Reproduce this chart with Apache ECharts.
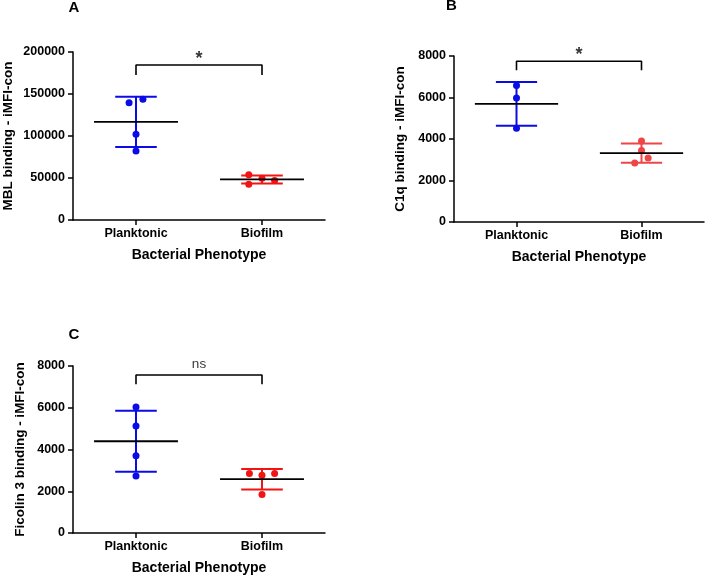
<!DOCTYPE html>
<html><head><meta charset="utf-8">
<script src="https://cdn.jsdelivr.net/npm/echarts@6/dist/echarts.min.js"></script>
<style>html,body{margin:0;padding:0;background:#fff}#c{width:705px;height:575px}</style>
</head><body><div id="c"></div>
<script>
// ---------- data ----------
const categories = ['Planktonic', 'Biofilm'];
const xAxisTitle = 'Bacterial Phenotype';
const panelLetters = ['A', 'B', 'C'];
const yAxisTitles = ['MBL binding - iMFI-con', 'C1q binding - iMFI-con', 'Ficolin 3 binding - iMFI-con'];
const yMax = [200000, 8000, 8000];
const yStep = [50000, 2000, 2000];

const mblPlanktonic = [139600, 143700, 102000, 82100];
const mblBiofilm = [54000, 49600, 47000, 42500];
const c1qPlanktonic = [6580, 5976, 4520];
const c1qBiofilm = [3904, 3440, 3090, 2843];
const ficPlanktonic = [6030, 5121, 3695, 2735];
const ficBiofilm = [2851, 2770, 2851, 1843];

const sigLabels = ['*', '*', 'ns'];
const bracketLow = [172600, 7311, 7122];
const bracketHigh = [184500, 7745, 7568];

// horizontal jitter of the dots (category units)
const jitterA = [[-0.055, 0.055, 0, 0], [-0.105, 0, 0.1, -0.105]];
const jitterB = [[0, 0, 0], [0, 0, 0.053, -0.054]];
const jitterC = [[0, 0, 0, 0], [-0.1, 0, 0.1, 0]];

// ---------- layout / style ----------
const BLUE = '#0b0be6';
const redColors = ['#f21414', '#ee4646', '#f01414'];
const FONT = '"Liberation Sans", Arial, sans-serif';
const grids = [
  { left: 73, top: 52, width: 252, height: 168 },
  { left: 454, top: 56, width: 250, height: 166 },
  { left: 73, top: 366, width: 252, height: 167 }
];
const nameGaps = [58, 47, 46];

const panels = [
  [mblPlanktonic, mblBiofilm],
  [c1qPlanktonic, c1qBiofilm],
  [ficPlanktonic, ficBiofilm]
];
const jitters = [jitterA, jitterB, jitterC];

function meanOf(a) { return a.reduce((s, v) => s + v, 0) / a.length; }
function sdOf(a) { const m = meanOf(a); return Math.sqrt(a.reduce((s, v) => s + (v - m) * (v - m), 0) / (a.length - 1)); }

const xAxes = [], yAxes = [], series = [];
grids.forEach((g, p) => {
  xAxes.push({
    gridIndex: p, type: 'value', min: 0.5, max: 2.5,
    axisLine: { show: true, lineStyle: { color: '#000', width: 1.5 } },
    axisTick: { show: true, customValues: [1, 2], length: 5, lineStyle: { color: '#000', width: 1.5 } },
    axisLabel: { customValues: [1, 2], formatter: v => categories[Math.round(v) - 1], fontFamily: FONT, fontWeight: 'bold', fontSize: 12.5, color: '#000', margin: 7 },
    splitLine: { show: false },
    name: xAxisTitle, nameLocation: 'middle', nameGap: 28,
    nameTextStyle: { fontFamily: FONT, fontWeight: 'bold', fontSize: 14, color: '#000' }
  });
  yAxes.push({
    gridIndex: p, type: 'value', min: 0, max: yMax[p], interval: yStep[p],
    axisLine: { show: true, lineStyle: { color: '#000', width: 1.5 } },
    axisTick: { show: true, length: 5, lineStyle: { color: '#000', width: 1.5 } },
    axisLabel: { formatter: v => String(v), fontFamily: FONT, fontWeight: 'bold', fontSize: 12.5, color: '#000', margin: 8 },
    splitLine: { show: false },
    name: yAxisTitles[p], nameLocation: 'middle', nameGap: nameGaps[p], nameRotate: 90,
    nameMoveOverlap: false,
    nameTextStyle: { fontFamily: FONT, fontWeight: 'bold', fontSize: 13.5, color: '#000' }
  });

  const groups = panels[p];
  groups.forEach((vals, gi) => {
    const color = gi === 0 ? BLUE : redColors[p];
    const cx = gi + 1;
    const m = meanOf(vals), s = sdOf(vals);
    // SD error bar
    series.push({
      type: 'custom', xAxisIndex: p, yAxisIndex: p, silent: true, z: 2,
      data: [[cx, m, s]],
      renderItem: (params, api) => {
        const x = api.value(0), mm = api.value(1), ss = api.value(2);
        const t = api.coord([x, mm + ss]), b = api.coord([x, mm - ss]);
        const tl = api.coord([x - 0.165, mm + ss]), tr = api.coord([x + 0.165, mm + ss]);
        const bl = api.coord([x - 0.165, mm - ss]), br = api.coord([x + 0.165, mm - ss]);
        const st = { stroke: color, lineWidth: 2 };
        return { type: 'group', children: [
          { type: 'line', shape: { x1: t[0], y1: t[1], x2: b[0], y2: b[1] }, style: st },
          { type: 'line', shape: { x1: tl[0], y1: tl[1], x2: tr[0], y2: tr[1] }, style: st },
          { type: 'line', shape: { x1: bl[0], y1: bl[1], x2: br[0], y2: br[1] }, style: st }
        ] };
      }
    });
    // dots
    series.push({
      type: 'scatter', xAxisIndex: p, yAxisIndex: p, z: 3, symbolSize: 7,
      itemStyle: { color: color, opacity: 1 },
      data: vals.map((v, i) => [cx + jitters[p][gi][i], v])
    });
    // mean line
    series.push({
      type: 'custom', xAxisIndex: p, yAxisIndex: p, silent: true, z: 4,
      data: [[cx, m]],
      renderItem: (params, api) => {
        const x = api.value(0), mm = api.value(1);
        const l = api.coord([x - 0.333, mm]), r = api.coord([x + 0.333, mm]);
        return { type: 'line', shape: { x1: l[0], y1: l[1], x2: r[0], y2: r[1] }, style: { stroke: '#000', lineWidth: 1.8 } };
      }
    });
  });

  // significance bracket
  series.push({
    type: 'line', xAxisIndex: p, yAxisIndex: p, silent: true, clip: false, z: 5,
    symbol: 'none', lineStyle: { color: '#000', width: 1.6 },
    data: [[1, bracketLow[p]], [1, bracketHigh[p]], [2, bracketHigh[p]], [2, bracketLow[p]]]
  });
  const isStar = sigLabels[p] === '*';
  series.push({
    type: 'scatter', xAxisIndex: p, yAxisIndex: p, silent: true, clip: false, z: 5,
    symbolSize: 0,
    data: [[1.5, bracketHigh[p]]],
    label: {
      show: true, position: 'top', distance: isStar ? -3 : 4,
      formatter: sigLabels[p], fontFamily: FONT, color: '#000',
      fontWeight: isStar ? 'bold' : 'normal', fontSize: isStar ? 18 : 13.5
    }
  });
});

const titlePos = [[74, 7.5], [451.5, 6], [74, 335]];
const graphic = panelLetters.map((t, i) => ({
  type: 'text', x: titlePos[i][0], y: titlePos[i][1],
  style: { text: t, font: 'bold 15px ' + FONT, fill: '#000', align: 'center', verticalAlign: 'middle' }
}));

const chart = echarts.init(document.getElementById('c'), null, { renderer: 'canvas' });
chart.setOption({
  animation: false,
  backgroundColor: '#fff',
  grid: grids.map(g => Object.assign({ outerBoundsMode: 'none', containLabel: false }, g)),
  xAxis: xAxes,
  yAxis: yAxes,
  series: series,
  graphic: graphic
});
</script>
</body></html>
